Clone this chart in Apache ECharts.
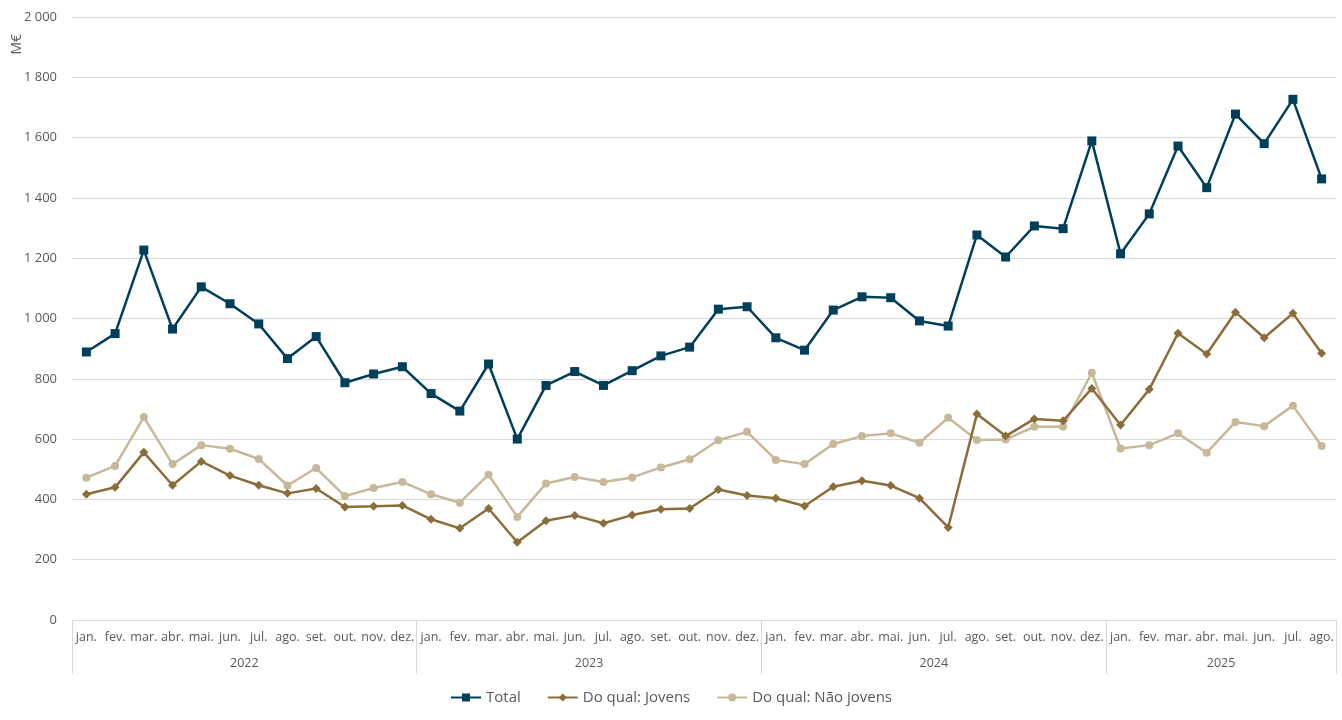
<!DOCTYPE html>
<html>
<head>
<meta charset="utf-8">
<script src="https://cdn.jsdelivr.net/npm/echarts@6/dist/echarts.min.js"></script>
<style>html,body{margin:0;padding:0;background:#fff}#c{width:1342px;height:720px}</style>
</head>
<body>
<div id="c"></div>
<script>
var months = ['jan.','fev.','mar.','abr.','mai.','jun.','jul.','ago.','set.','out.','nov.','dez.'];
var years = ['2022','2023','2024','2025'];
var yearMonthCounts = [12,12,12,8];
var seriesNames = ['Total','Do qual: Jovens','Do qual: Não jovens'];
var total = [889,950,1227,965,1105,1049,982,867,940,787,816,840,
             751,693,849,600,778,824,778,827,876,905,1031,1039,
             936,895,1028,1072,1069,992,975,1277,1204,1307,1298,1589,
             1215,1347,1572,1434,1678,1580,1727,1463];
var jovens = [417,440,556,447,526,479,447,420,436,375,377,380,
              334,304,370,258,329,347,321,348,367,370,433,413,
              404,378,442,462,446,404,307,683,610,667,661,768,
              647,765,951,882,1021,936,1017,885];
var naoJovens = [472,511,673,517,580,568,534,446,504,411,438,458,
                 417,389,482,342,453,474,458,473,506,533,596,624,
                 531,517,584,610,619,588,671,597,599,641,641,820,
                 569,580,619,555,657,643,711,577];

var cats = [];
var yearBounds = [0];
var yearCenters = [];
var acc = 0;
yearMonthCounts.forEach(function(n){
  yearCenters.push(acc + n/2);
  for (var i=0;i<n;i++) cats.push(months[i]);
  acc += n;
  yearBounds.push(acc);
});

var fmt = function(v){ return String(v).replace(/\B(?=(\d{3})+(?!\d))/g,' '); };
var font = '"Open Sans", "Noto Sans", sans-serif';
var txt = '#595959';
var gridc = '#d9d9d9';

var chart = echarts.init(document.getElementById('c'));
chart.setOption({
  animation:false,
  textStyle:{fontFamily:font},
  grid:{left:72,right:6,top:17,bottom:100,containLabel:false},
  legend:{
    bottom:10,left:'center',itemWidth:30,itemHeight:10,itemGap:26,
    textStyle:{fontSize:15,color:txt,fontFamily:font},
    data:seriesNames
  },
  graphic:[{type:'text',left:10,top:34,rotation:Math.PI/2,
    style:{text:'M€',fill:txt,fontSize:14,fontFamily:font}}],
  xAxis:[{
    type:'category',data:cats,boundaryGap:true,
    axisLine:{lineStyle:{color:gridc,width:1}},
    axisTick:{show:false},
    axisLabel:{interval:0,fontSize:12.5,color:txt,margin:11,fontFamily:font}
  },{
    type:'value',min:0,max:cats.length,position:'bottom',offset:0,
    axisLine:{show:false},splitLine:{show:false},
    axisTick:{show:true,customValues:yearBounds,length:54,lineStyle:{color:gridc}},
    axisLabel:{customValues:yearCenters,fontSize:12.5,color:txt,margin:37,fontFamily:font,
      formatter:function(v){ var i=yearCenters.indexOf(v); return i>=0?years[i]:''; }}
  }],
  yAxis:{
    type:'value',min:0,max:2000,interval:200,
    axisLine:{show:false},axisTick:{show:false},
    splitLine:{lineStyle:{color:gridc}},
    axisLabel:{fontSize:13,color:txt,margin:15,formatter:fmt,fontFamily:font}
  },
  series:[
    {name:seriesNames[0],type:'line',data:total,symbol:'rect',symbolSize:9,
     lineStyle:{width:2.5,color:'#003f5a'},itemStyle:{color:'#003f5a'},z:3},
    {name:seriesNames[1],type:'line',data:jovens,symbol:'diamond',symbolSize:9,
     lineStyle:{width:2.5,color:'#8b6d3a'},itemStyle:{color:'#8b6d3a'},z:2},
    {name:seriesNames[2],type:'line',data:naoJovens,symbol:'circle',symbolSize:8,
     lineStyle:{width:2.5,color:'#c8b89a'},itemStyle:{color:'#c8b89a'},z:1}
  ]
});
</script>
</body>
</html>
